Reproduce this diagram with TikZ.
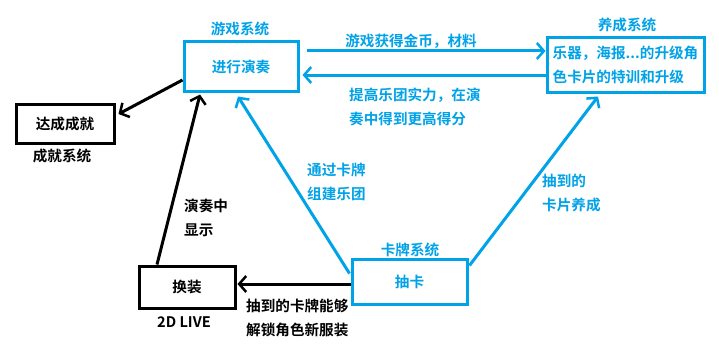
\documentclass[tikz,border=0pt]{standalone}
\usepackage{fontspec}
\setmainfont{Noto Sans CJK SC Bold}
\usetikzlibrary{arrows.meta}
\definecolor{pblue}{RGB}{0,162,232}
\tikzset{
  bluebox/.style={draw=pblue, line width=3pt, text=pblue, inner sep=0pt},
  blackbox/.style={draw=black, line width=3pt, text=black, inner sep=0pt},
  bluelbl/.style={text=pblue, inner sep=0pt},
  blacklbl/.style={text=black, inner sep=0pt},
  bluearr/.style={draw=pblue, line width=3pt, -{Straight Barb[length=7pt,width=16pt,line width=2.5pt]}},
  blackarr/.style={draw=black, line width=3pt, -{Straight Barb[length=7pt,width=16pt,line width=2.5pt]}},
}
\begin{document}
\begin{tikzpicture}[x=1pt,y=-1pt,font=\fontsize{14.6}{24}\selectfont]
\useasboundingbox[fill=white] (0,0) rectangle (719,345);
% boxes
\node[bluebox, minimum width=114pt, minimum height=49pt] (play) at (241,66.5) {进行演奏};
\node[bluebox, minimum width=157pt, minimum height=54pt, align=left] (grow) at (625.5,65) {乐器，海报...的升级角\\色卡片的特训和升级};
\node[blackbox, minimum width=98pt, minimum height=39pt] (ach) at (65,123.5) {达成成就};
\node[blackbox, minimum width=96pt, minimum height=42pt] (dress) at (187,287) {换装};
\node[bluebox, minimum width=115pt, minimum height=45pt] (card) at (409.5,281.5) {抽卡};
% system labels
\node[bluelbl] (playsys) at (240,29) {游戏系统};
\node[bluelbl] (growsys) at (627,25) {养成系统};
\node[blacklbl] (achsys) at (62,156) {成就系统};
\node[blacklbl] (live) at (184,322) {2D LIVE};
\node[bluelbl] (cardsys) at (410,250) {卡牌系统};
% connectors
\draw[bluearr] ([shift={(7,-15.5)}]play.east) -- ([shift={(0,-14)}]grow.west);
\draw[bluearr] ([shift={(0,10)}]grow.west) -- ([shift={(3,8.5)}]play.east);
\draw[blackarr] ([shift={(0,13.5)}]play.west) -- ([shift={(3,-9.5)}]ach.east);
\draw[blackarr] ([shift={(-30,0)}]dress.north) -- ([shift={(-41,2)}]play.south);
\draw[blackarr] ([shift={(0,2.5)}]card.west) -- ([shift={(1,-3)}]dress.east);
\draw[bluearr] ([shift={(-1,16)}]card.north west) -- ([shift={(-3,4)}]play.south);
\draw[bluearr] ([shift={(1,8)}]card.north east) -- ([shift={(-27.5,3)}]grow.south);
% connector labels
\node[bluelbl] (l1) at (411,41) {游戏获得金币，材料};
\node[bluelbl, anchor=west, align=left] (l2) at (349,107) {提高乐团实力，在演\\奏中得到更高得分};
\node[blacklbl, anchor=west, align=left] (l3) at (184,217.5) {演奏中\\显示};
\node[bluelbl, anchor=west, align=left] (l4) at (307,182) {通过卡牌\\组建乐团};
\node[bluelbl, anchor=west, align=left] (l5) at (542,193.5) {抽到的\\卡片养成};
\node[blacklbl, anchor=west, align=left] (l6) at (246,317.5) {抽到的卡牌能够\\解锁角色新服装};
\end{tikzpicture}
\end{document}
